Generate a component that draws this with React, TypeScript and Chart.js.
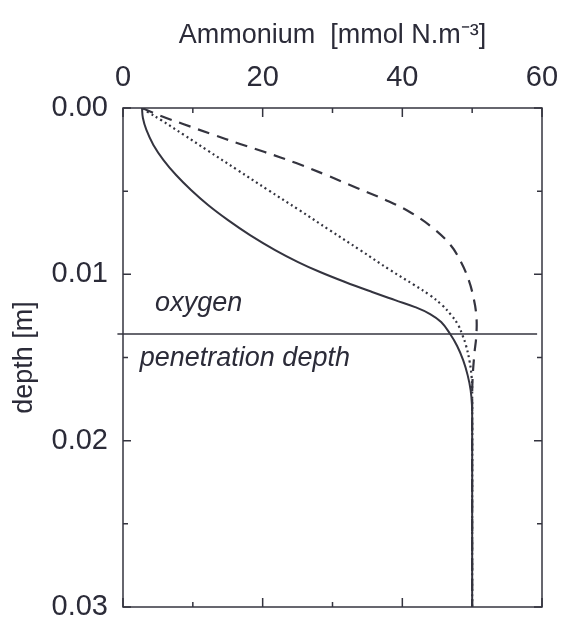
import React, { useEffect, useRef } from "react";
import { Chart, registerables } from "chart.js";

Chart.register(...registerables);

// ---- data ----
const depthSolid = [0, 0.0006, 0.00132, 0.00222, 0.00313, 0.00403, 0.00493, 0.00583, 0.00674, 0.00764, 0.00854, 0.00926, 0.00986, 0.01046, 0.01106, 0.01155, 0.01197, 0.01239, 0.01287, 0.01359, 0.01431, 0.01516, 0.01606, 0.01696, 0.01786, 0.01906, 0.025, 0.03];
const ammoniumSolid = [2.72, 2.85, 3.35, 4.35, 5.8, 7.6, 9.74, 12.18, 15.04, 18.19, 21.78, 25.07, 28.22, 31.8, 35.67, 38.97, 41.83, 43.98, 45.56, 46.85, 47.85, 48.71, 49.35, 49.78, 49.97, 50, 50, 50];

const depthDotted = [0, 0.00024, 0.00072, 0.00162, 0.00253, 0.00373, 0.00493, 0.00613, 0.00734, 0.00854, 0.00974, 0.01064, 0.01124, 0.01185, 0.01245, 0.01305, 0.01365, 0.01425, 0.01516, 0.01606, 0.01696, 0.025, 0.03];
const ammoniumDotted = [2.87, 3.58, 5.44, 8.74, 12.03, 16.4, 20.77, 25.21, 29.58, 33.95, 38.25, 41.7, 43.9, 45.7, 47.0, 48.0, 48.6, 49.1, 49.6, 49.9, 50, 50, 50];

const depthDashed = [0, 0.00048, 0.00096, 0.00156, 0.00216, 0.00265, 0.00331, 0.00403, 0.00481, 0.00553, 0.00631, 0.00722, 0.00824, 0.00926, 0.01034, 0.01142, 0.0125, 0.01365, 0.01485, 0.01636, 0.01756, 0.025, 0.03];
const ammoniumDashed = [2.72, 5.44, 8.6, 12.6, 16.76, 20.3, 24.8, 29.1, 33.5, 37.6, 41.3, 44.4, 46.9, 48.4, 49.5, 50.2, 50.6, 50.6, 50.3, 50.05, 50, 50, 50];

const penetrationDepth = 0.01359;
const penetrationLineRange = [-0.8, 59.3];

const xMajorTicks = [0, 20, 40, 60];
const xMinorTicks = [10, 30, 50];
const yMajorTicks = [0, 0.01, 0.02, 0.03];
const yMinorTicks = [0.005, 0.015, 0.025];

const xTitle = "Ammonium  [mmol N.m\u207B\u00B3]";
const yTitle = "depth [m]";
const oxygenLabel = "oxygen";
const penetrationLabel = "penetration depth";

// ---- styles ----
const FONT = '"Liberation Sans", Arial, Helvetica, sans-serif';
const INK = "#2b2b38";
const LINE = "#34343f";

const toPts = (ds: number[], vs: number[]) => ds.map((d, i) => ({ x: vs[i], y: d }));

const framePlugin = {
  id: "frameTicks",
  afterDatasetsDraw(chart: any) {
    const { ctx, chartArea: a, scales } = chart;
    const x = scales.x;
    const y = scales.y;
    ctx.save();
    ctx.strokeStyle = LINE;
    ctx.lineWidth = 1.5;
    ctx.strokeRect(a.left, a.top, a.right - a.left, a.bottom - a.top);
    ctx.beginPath();
    const xt = (v: number, len: number) => {
      const p = x.getPixelForValue(v);
      ctx.moveTo(p, a.top);
      ctx.lineTo(p, a.top + len);
      ctx.moveTo(p, a.bottom);
      ctx.lineTo(p, a.bottom - len);
    };
    const yt = (v: number, len: number) => {
      const p = y.getPixelForValue(v);
      ctx.moveTo(a.left, p);
      ctx.lineTo(a.left + len, p);
      ctx.moveTo(a.right, p);
      ctx.lineTo(a.right - len, p);
    };
    xMajorTicks.forEach((v) => xt(v, 9));
    xMinorTicks.forEach((v) => xt(v, 5));
    yMajorTicks.forEach((v) => yt(v, 8));
    yMinorTicks.forEach((v) => yt(v, 5));
    ctx.stroke();

    ctx.fillStyle = INK;
    ctx.font = `italic 27px ${FONT}`;
    ctx.textAlign = "left";
    ctx.textBaseline = "alphabetic";
    ctx.fillText(oxygenLabel, x.getPixelForValue(4.6), y.getPixelForValue(0.0122));
    ctx.fillText(penetrationLabel, x.getPixelForValue(2.4), y.getPixelForValue(0.0155));
    ctx.restore();
  },
};

export default function App() {
  const ref = useRef<HTMLCanvasElement | null>(null);

  useEffect(() => {
    if (!ref.current) return;
    const common = {
      pointRadius: 0,
      pointHoverRadius: 0,
      fill: false,
      borderColor: LINE,
      tension: 0.4,
    };
    const chart = new Chart(ref.current, {
      type: "line",
      data: {
        datasets: [
          { ...common, label: "solid", data: toPts(depthSolid, ammoniumSolid), borderWidth: 2 },
          { ...common, label: "dotted", data: toPts(depthDotted, ammoniumDotted), borderWidth: 2.2, borderDash: [2, 3.2] },
          { ...common, label: "dashed", data: toPts(depthDashed, ammoniumDashed), borderWidth: 2.2, borderDash: [12, 8] },
          {
            pointRadius: 0,
            fill: false,
            borderColor: LINE,
            label: "oxygen penetration depth",
            data: penetrationLineRange.map((v) => ({ x: v, y: penetrationDepth })),
            borderWidth: 1.5,
            tension: 0,
            clip: false,
          },
        ],
      },
      plugins: [framePlugin],
      options: {
        animation: false,
        responsive: false,
        events: [],
        layout: { padding: { left: 0, top: 0, right: 20, bottom: 15 } },
        plugins: { legend: { display: false }, tooltip: { enabled: false } },
        scales: {
          x: {
            type: "linear",
            position: "top",
            min: 0,
            max: 60,
            grid: { display: false, drawTicks: false },
            border: { display: false },
            ticks: {
              stepSize: 20,
              padding: 13,
              color: INK,
              font: { family: FONT, size: 29 },
              callback: (v: any) => String(v),
            },
            title: {
              display: true,
              text: xTitle,
              color: INK,
              font: { family: FONT, size: 27 },
              padding: { top: 19, bottom: 0 },
            },
            afterFit: (s: any) => {
              s.height = 108;
              s.paddingLeft = 0;
              s.paddingRight = 0;
            },
          },
          y: {
            type: "linear",
            position: "left",
            reverse: true,
            min: 0,
            max: 0.03,
            grid: { display: false, drawTicks: false },
            border: { display: false },
            ticks: {
              stepSize: 0.01,
              padding: 15,
              color: INK,
              font: { family: FONT, size: 29 },
              callback: (v: any) => Number(v).toFixed(2),
            },
            title: {
              display: true,
              text: yTitle,
              color: INK,
              font: { family: FONT, size: 27 },
              padding: { top: 8, bottom: 0 },
            },
            afterFit: (s: any) => {
              s.width = 123;
              s.paddingTop = 0;
              s.paddingBottom = 0;
            },
          },
        },
      },
    } as any);
    return () => chart.destroy();
  }, []);

  return (
    <div style={{ position: "absolute", left: 0, top: 0, width: 562, height: 622, background: "#fff" }}>
      <canvas ref={ref} width={562} height={622} style={{ width: 562, height: 622, display: "block" }} />
    </div>
  );
}
